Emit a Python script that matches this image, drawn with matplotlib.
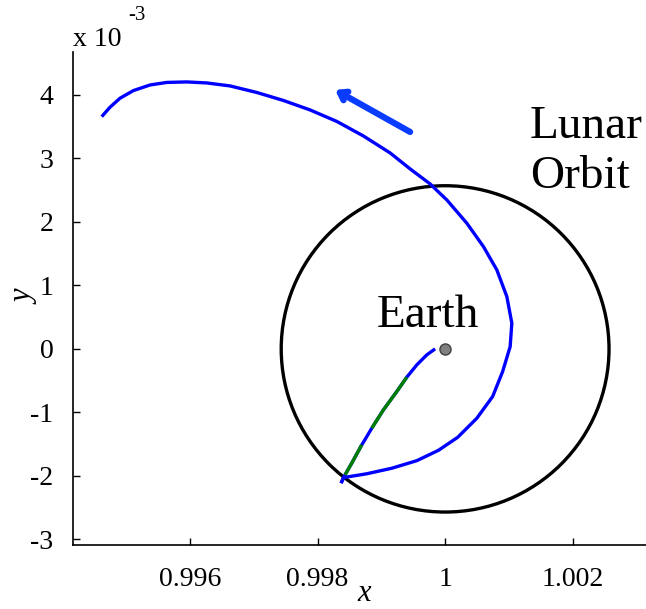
import numpy as np
import matplotlib.pyplot as plt
from matplotlib.patches import Circle
from matplotlib.ticker import FuncFormatter

plt.rcParams['font.family'] = ['Liberation Serif', 'DejaVu Serif']

# outbound leg, Earth -> lower-left turning point (y in units of 1e-3)
leg1_x = [0.999843, 0.999713, 0.999556, 0.999399, 0.999242, 0.999032,
          0.998850, 0.998772, 0.998693, 0.998536, 0.998431, 0.998369]
leg1_y = [0.000, -0.094, -0.252, -0.446, -0.672, -0.961,
          -1.249, -1.381, -1.512, -1.800, -1.984, -2.115]

# return swing round the Earth and out past the lunar orbit
leg2_x = [0.998369, 0.998405, 0.998772, 0.999164, 0.999556, 0.999895,
          1.000196, 1.000497, 1.000745, 1.000902, 1.001020, 1.001046,
          1.000968, 1.000811, 1.000601, 1.000340, 1.000027, 0.999765,
          0.999451, 0.999137, 0.998718, 0.998301, 0.997882, 0.997464,
          0.997046, 0.996627, 0.996262, 0.995948, 0.995634, 0.995373,
          0.995111, 0.994902, 0.994745, 0.994615]
leg2_y = [-2.115, -2.027, -1.967, -1.880, -1.761, -1.598,
          -1.394, -1.093, -0.751, -0.357, 0.036, 0.405,
          0.824, 1.244, 1.611, 1.980, 2.346, 2.598,
          2.835, 3.087, 3.354, 3.583, 3.764, 3.913,
          4.039, 4.142, 4.189, 4.205, 4.197, 4.157,
          4.068, 3.948, 3.806, 3.658]

# thrust arcs (index ranges into leg1)
green_ranges = [(3, 6), (8, 10)]

earth = (1.0, 0.0)
moon_radius = 0.00257

arrow_tail = (0.999451, 3.417)
arrow_head = (0.998275, 4.079)

scale = 1e-3
l1x, l1y = np.array(leg1_x), np.array(leg1_y) * scale
l2x, l2y = np.array(leg2_x), np.array(leg2_y) * scale

fig = plt.figure(figsize=(6.46, 6.09), dpi=100)
ax = fig.add_axes([0.113, 0.105, 0.887, 0.81])

ax.add_patch(Circle(earth, moon_radius, fill=False, ec='black', lw=2.4, zorder=2))

line_kw = dict(lw=2.4, solid_capstyle='butt', solid_joinstyle='round')
ax.plot(l1x, l1y, color='#0000ff', zorder=3, **line_kw)
ax.plot(l2x, l2y, color='#0000ff', zorder=3, **line_kw)
for a, b in green_ranges:
    ax.plot(l1x[a:b + 1], l1y[a:b + 1], color='#007f00', zorder=4, **line_kw)

ax.plot(*earth, 'o', ms=8, mfc='#808080', mec='#404040', mew=1, zorder=5)

ax.annotate('', xy=(arrow_head[0], arrow_head[1] * scale),
            xytext=(arrow_tail[0], arrow_tail[1] * scale),
            arrowprops=dict(arrowstyle='->,head_length=0.5,head_width=0.35',
                            color='#0a3cff', lw=4.5, capstyle='round',
                            joinstyle='round', shrinkA=0, shrinkB=0))

ax.text(1.001333, 3.32e-3, 'Lunar', fontsize=34, ha='left', va='baseline')
ax.text(1.001333, 2.535e-3, 'Orbit', fontsize=34, ha='left', va='baseline')
ax.text(0.99973, 0.346e-3, 'Earth', fontsize=34, ha='center', va='baseline')

ax.set_xlim(0.994165, 1.00315)
ax.set_ylim(-3.09e-3, 4.68e-3)
ax.set_xticks([0.996, 0.998, 1.0, 1.002])
ax.set_yticks(np.arange(-3, 5) * scale)
ax.xaxis.set_major_formatter(FuncFormatter(lambda v, p: f'{round(v, 6):g}'))
ax.yaxis.set_major_formatter(FuncFormatter(lambda v, p: f'{round(v / scale):d}'))
ax.tick_params(direction='in', length=5, width=1, labelsize=20)
ax.tick_params(axis='x', pad=16)
ax.tick_params(axis='y', pad=14)
for side in ('top', 'right'):
    ax.spines[side].set_visible(False)
for side in ('left', 'bottom'):
    ax.spines[side].set_linewidth(1.2)

ax.set_xlabel('x', fontsize=22, fontstyle='italic')
ax.set_ylabel('y', fontsize=22, fontstyle='italic')
ax.xaxis.set_label_coords(0.508, -0.099)
ax.yaxis.set_label_coords(-0.084, 0.503)
ax.xaxis.label.set_verticalalignment('center')
ax.yaxis.label.set_verticalalignment('center')

ax.text(0.0, 1.012, 'x 10', transform=ax.transAxes, fontsize=20,
        ha='left', va='baseline')
ax.text(0.096, 1.055, '-3', transform=ax.transAxes, fontsize=15,
        ha='left', va='bottom')

fig.savefig('out.png', dpi=100)
